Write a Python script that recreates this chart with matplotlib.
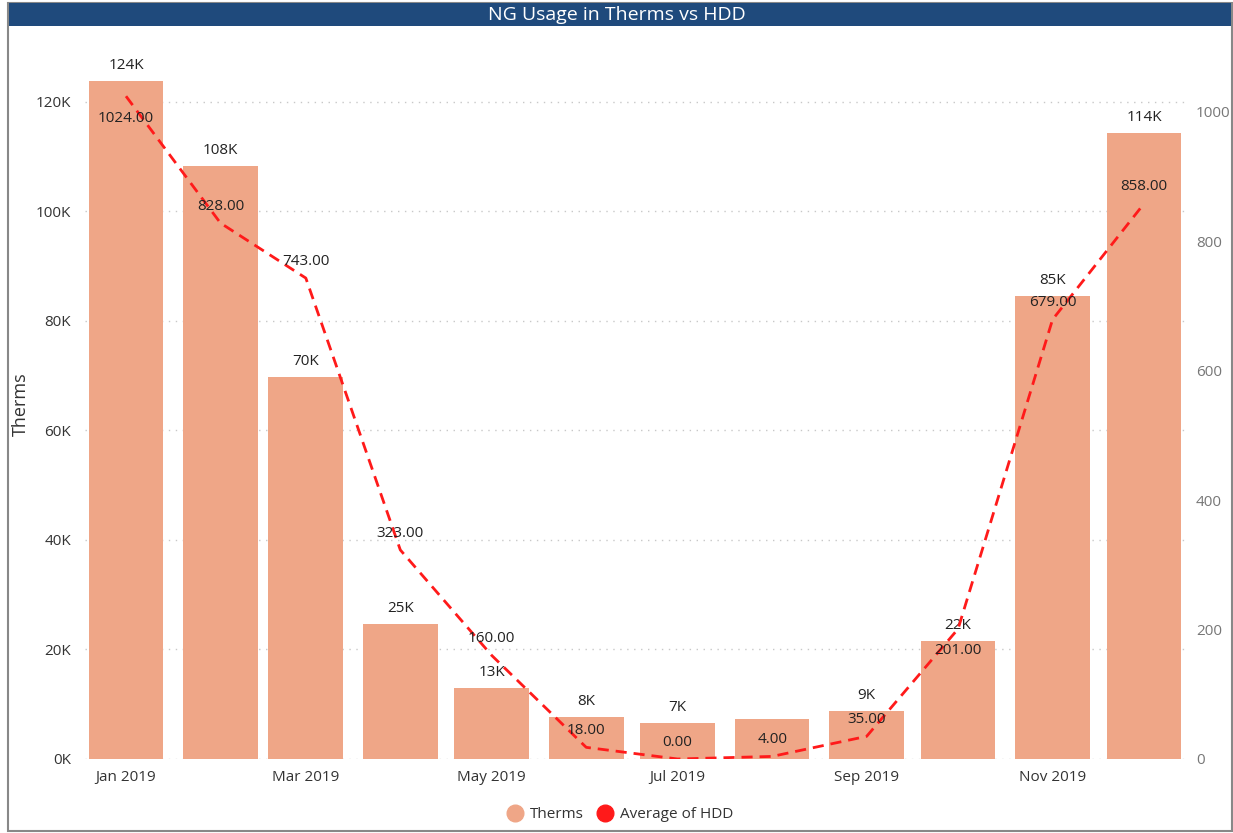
import matplotlib
matplotlib.use("Agg")
import matplotlib.pyplot as plt
import matplotlib.dates as mdates
from matplotlib.lines import Line2D
from matplotlib.patches import Rectangle
import datetime as dt

months = ["2019-01", "2019-02", "2019-03", "2019-04", "2019-05", "2019-06",
          "2019-07", "2019-08", "2019-09", "2019-10", "2019-11", "2019-12"]
therms = [123.8, 108.3, 69.8, 24.7, 13.0, 7.7, 6.6, 7.3, 8.8, 21.6, 84.6, 114.3]  # thousands
therm_labels = ["124K", "108K", "70K", "25K", "13K", "8K", "7K", "", "9K", "22K", "85K", "114K"]
hdd = [1024, 828, 743, 323, 160, 18, 0, 4, 35, 201, 679, 858]
hdd_label_below = [True, False, False, False, False, False, False, False, False, True, False, False]
left_ticks = [0, 20, 40, 60, 80, 100, 120]
right_ticks = [0, 200, 400, 600, 800, 1000]
xtick_months = ["2019-01", "2019-03", "2019-05", "2019-07", "2019-09", "2019-11"]

plt.rcParams['font.family'] = ['Open Sans', 'DejaVu Sans']

BAR = "#EFA687"
RED = "#FF1A1A"
W, H = 1233, 833
fig = plt.figure(figsize=(W / 100, H / 100), dpi=100)

def fx(px): return px / W
def fy(py): return 1 - py / H

# frame
fig.patches.append(Rectangle((fx(8), fy(831)), fx(1232) - fx(8), fy(3) - fy(831),
                             transform=fig.transFigure, fill=False, edgecolor="#888888", lw=1.5))
# title bar
fig.patches.append(Rectangle((fx(9), fy(26)), fx(1231) - fx(9), fy(3) - fy(26),
                             transform=fig.transFigure, facecolor="#1F4A7C", edgecolor="none"))
fig.text(0.5, fy(14.5), "NG Usage in Therms vs HDD", color="white", fontsize=14,
         ha="center", va="center")

ax = fig.add_axes([fx(85), fy(759), fx(1185) - fx(85), fy(47) - fy(759)])
dates = [dt.datetime.strptime(m, "%Y-%m") for m in months]
xd = mdates.date2num(dates)

ax.bar(xd, therms, width=24.5, color=BAR, zorder=2)
ax.set_ylim(0, 130)
ax.set_xlim(xd[0] - 13.45, xd[-1] + 13.45)
ax.set_yticks(left_ticks)
ax.set_yticklabels([f"{t}K" for t in left_ticks])
ax.yaxis.grid(True, linestyle=(0, (1, 4)), color="#C8C8C8", lw=1, zorder=0)
ax.set_axisbelow(True)
xt = mdates.date2num([dt.datetime.strptime(m, "%Y-%m") for m in xtick_months])
ax.set_xticks(xt)
ax.set_xticklabels([dt.datetime.strptime(m, "%Y-%m").strftime("%b %Y") for m in xtick_months])
for s in ax.spines.values():
    s.set_visible(False)
ax.tick_params(axis="x", length=0, labelsize=11, colors="#333333", pad=8)
ax.tick_params(axis="y", length=0, labelsize=11, colors="#333333", pad=10)
fig.text(fx(21), fy(404), "Therms", rotation=90, fontsize=13, color="#333333",
         ha="center", va="center")

for x, v, lab in zip(xd, therms, therm_labels):
    if lab:
        ax.annotate(lab, (x, v), xytext=(0, 5.5), textcoords="offset points",
                    ha="center", va="bottom", fontsize=11, color="#222222", zorder=5)

ax2 = ax.twinx()
ax2.set_ylim(0, 1100)
ax2.plot(xd, hdd, color=RED, lw=2, linestyle=(0, (4, 2.5)), zorder=4)
ax2.set_yticks(right_ticks)
for s in ax2.spines.values():
    s.set_visible(False)
ax2.tick_params(axis="y", length=0, labelsize=11, colors="#777777", pad=8)
for x, v, below in zip(xd, hdd, hdd_label_below):
    off = -21 if below else 16
    ax2.annotate(f"{v:.2f}", (x, v), xytext=(0, off * 0.75), textcoords="offset points",
                 ha="center", va="center", fontsize=11, color="#222222", zorder=6)

handles = [Line2D([], [], marker="o", linestyle="none", markersize=12, color=BAR),
           Line2D([], [], marker="o", linestyle="none", markersize=12, color=RED)]
fig.legend(handles, ["Therms", "Average of HDD"], loc="center", bbox_to_anchor=(0.5, fy(815)),
           ncol=2, frameon=False, fontsize=11, handletextpad=0.0, columnspacing=0.4,
           labelcolor="#333333")

fig.savefig("out.png", dpi=100)
